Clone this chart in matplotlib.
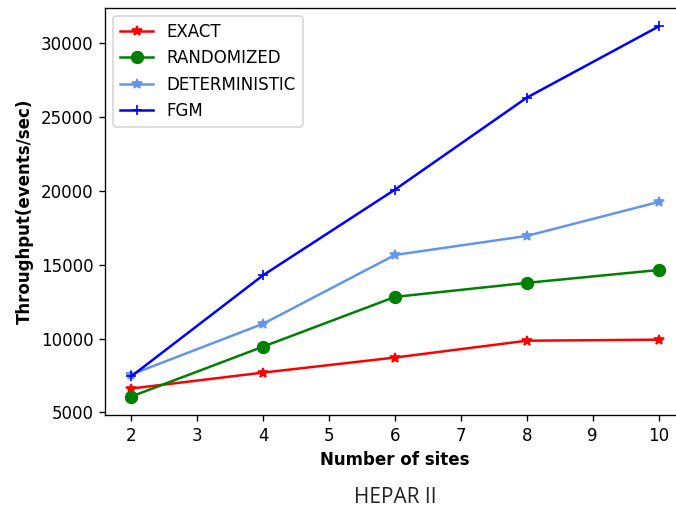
import matplotlib

matplotlib.use("Agg")

import matplotlib.pyplot as plt

sites = [2, 4, 6, 8, 10]
exact = [6620, 7700, 8720, 9860, 9930]
randomized = [6080, 9460, 12830, 13780, 14650]
deterministic = [7570, 11010, 15670, 16960, 19260]
fgm = [7450, 14300, 20100, 26330, 31150]

fig = plt.figure(figsize=(676 / 120, 511 / 120), dpi=120)
# right edge of the original axes falls outside the picture
ax = fig.add_axes([105 / 676, 96 / 511, 580 / 676, 407 / 511])

ax.plot(sites, exact, color="red", marker="*", markersize=6, label="EXACT")
ax.plot(sites, randomized, color="green", marker="o", markersize=7, label="RANDOMIZED")
ax.plot(sites, deterministic, color="cornflowerblue", marker="*", markersize=6, label="DETERMINISTIC")
ax.plot(sites, fgm, color="blue", marker="+", markersize=6, label="FGM")

ax.set_xlabel("Number of sites", fontweight="bold")
ax.set_ylabel("Throughput(events/sec)", fontweight="bold")
ax.legend(loc="upper left")

fig.text(395 / 676, 1 - 497 / 511, "HEPAR II", family="Open Sans",
         fontsize=12.5, color="#222222", ha="center", va="center")

fig.savefig("out.png", dpi=120)
